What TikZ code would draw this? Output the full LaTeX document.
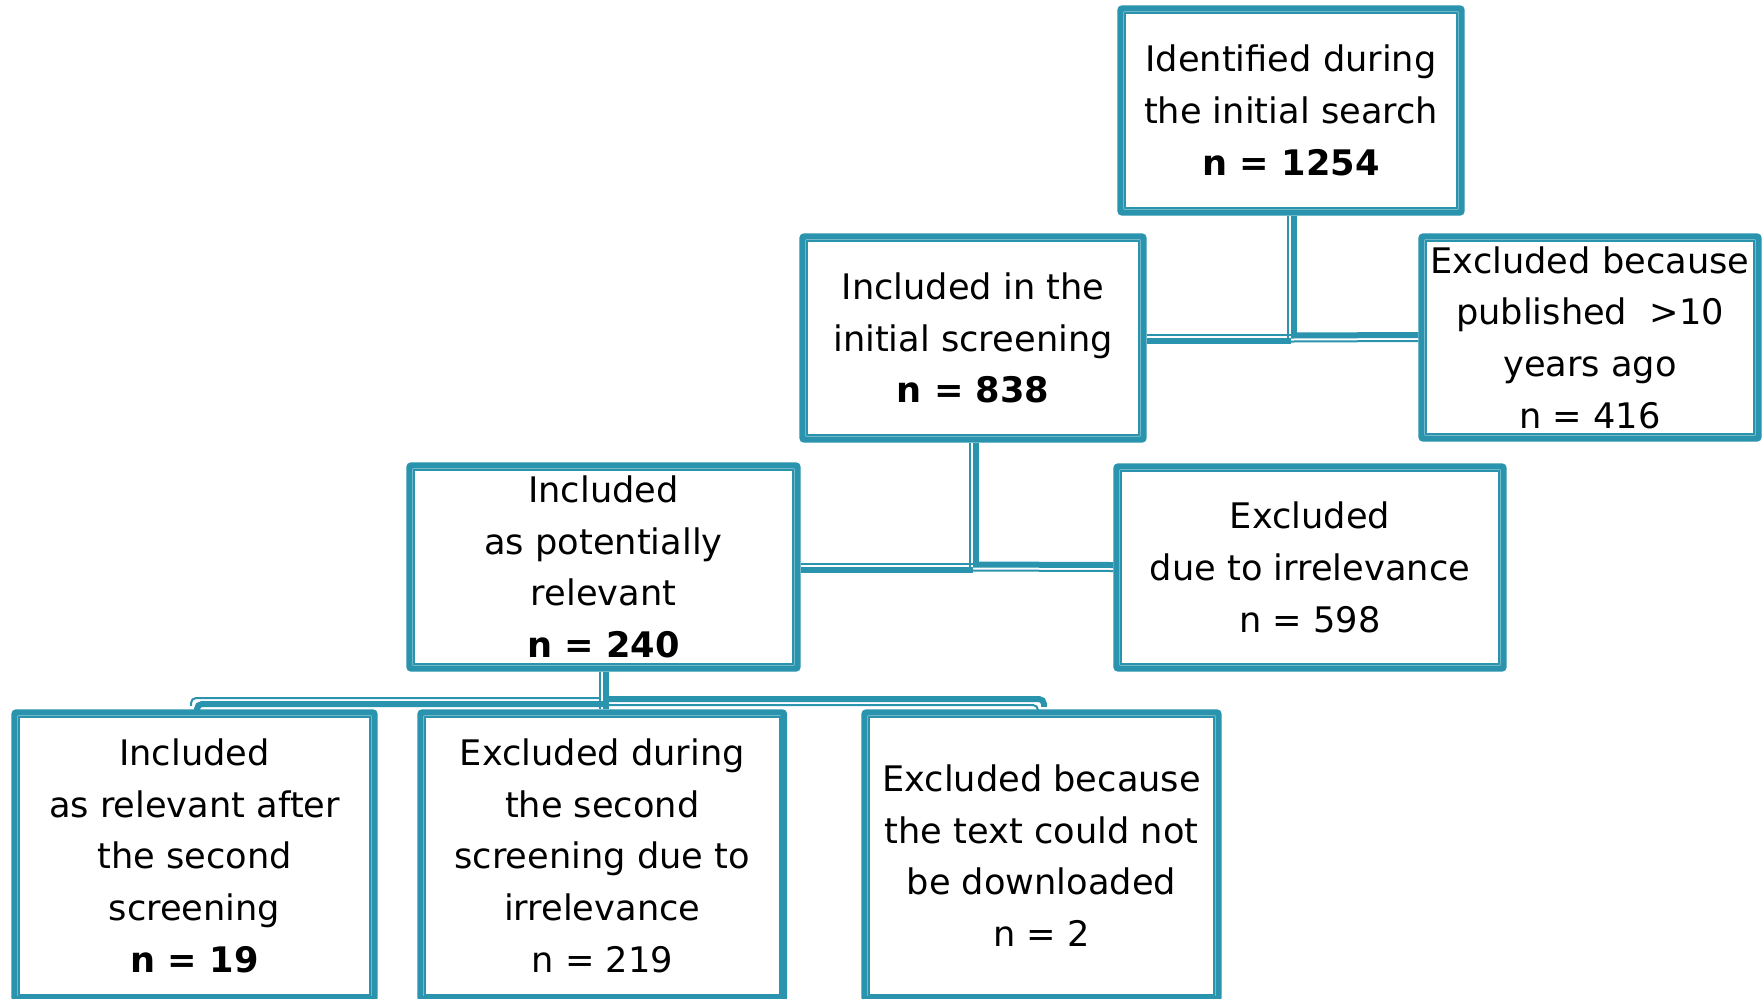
\documentclass[tikz,border=0pt]{standalone}
\usepackage{fontspec}
\setmainfont{DejaVu Sans}
\definecolor{frame}{RGB}{42,147,173}
\newcommand\BoxFont{\fontsize{17.6}{25.85}\selectfont}
% box with a thick outer and a thin inner frame, corners in px
\newcommand\FlowBox[6]{%
    \node[flowbox, minimum width={(#4-#2)*0.5pt}, minimum height={(#5-#3)*0.5pt}]
        (#1) at ({(#2+#4)/2},{(#3+#5)/2}) {#6};
    \draw[boxinner] ([xshift=3.8pt,yshift=-3.8pt]#1.north west) rectangle ([xshift=-3.8pt,yshift=3.8pt]#1.south east);
}
% thick-thin connector: shift of thick line, shift of thin line, path
\newcommand\Link[3]{%
    \draw[linkthick, transform canvas={shift={#1}}] #3;
    \draw[linkthin, transform canvas={shift={#2}}] #3;
}

\begin{document}
\begin{tikzpicture}[x=0.5pt, y=-0.5pt,
    flowbox/.style={draw=frame, line width=3.2pt, rounded corners=1pt, fill=white,
        inner sep=0pt, align=center, font=\BoxFont},
    boxinner/.style={draw=frame, line width=0.9pt},
    linkthick/.style={draw=frame, line width=3pt, rounded corners=2.5pt},
    linkthin/.style={draw=frame, line width=1pt, rounded corners=2.5pt}]
    \useasboundingbox (0,0) rectangle (1762,998);
    \FlowBox{search}{1120.5}{8.5}{1461.5}{212.5}{Identified during\\the initial search\\\textbf{n = 1254}}
    \FlowBox{screen}{802.5}{236.5}{1143.5}{439.5}{Included in the\\initial screening\\\textbf{n = 838}}
    \FlowBox{old}{1421.5}{236.5}{1758.5}{438.5}{Excluded because\\published~~>10\\years ago\\n = 416}
    \FlowBox{potential}{409.5}{465.5}{797.5}{668.5}{Included\\as potentially\\relevant\\\textbf{n = 240}}
    \FlowBox{irrelevant}{1116.5}{466.5}{1503.5}{668.5}{Excluded\\due to irrelevance\\n = 598}
    \FlowBox{relevant}{14.5}{712.5}{374.5}{999}{Included\\as relevant after\\the second\\screening\\\textbf{n = 19}}
    \FlowBox{second}{420.5}{712.5}{784}{999}{Excluded during\\the second\\screening due to\\irrelevance\\n = 219}
    \FlowBox{nofile}{864.5}{712.5}{1218.5}{999}{Excluded because\\the text could not\\be downloaded\\n = 2}
    \coordinate (forkY) at (0,701.5);
    % first split
    \Link{(1.25pt,0pt)}{(-1.75pt,0pt)}{(search.south) -- (search.south |- screen.east)}
    \Link{(0pt,-1.25pt)}{(0pt,1.75pt)}{(search.south |- screen.east) -- (screen.east)}
    \Link{(0pt,1.25pt)}{(0pt,-1.75pt)}{(search.south |- screen.east) -- (old.west)}
    % second split
    \Link{(1.25pt,0pt)}{(-1.75pt,0pt)}{(screen.south) -- (screen.south |- potential.east)}
    \Link{(0pt,-1.25pt)}{(0pt,1.75pt)}{(screen.south |- potential.east) -- (potential.east)}
    \Link{(0pt,1.25pt)}{(0pt,-1.75pt)}{(screen.south |- potential.east) -- (irrelevant.west)}
    % third split
    \Link{(1.25pt,0pt)}{(-1.75pt,0pt)}{(potential.south) -- (potential.south |- second.north)}
    \Link{(1.25pt,-1.25pt)}{(-1.75pt,1.75pt)}{(potential.south |- forkY) -| (relevant.north)}
    \Link{(1.25pt,1.25pt)}{(-1.75pt,-1.75pt)}{(potential.south |- forkY) -| (nofile.north)}
\end{tikzpicture}
\end{document}
